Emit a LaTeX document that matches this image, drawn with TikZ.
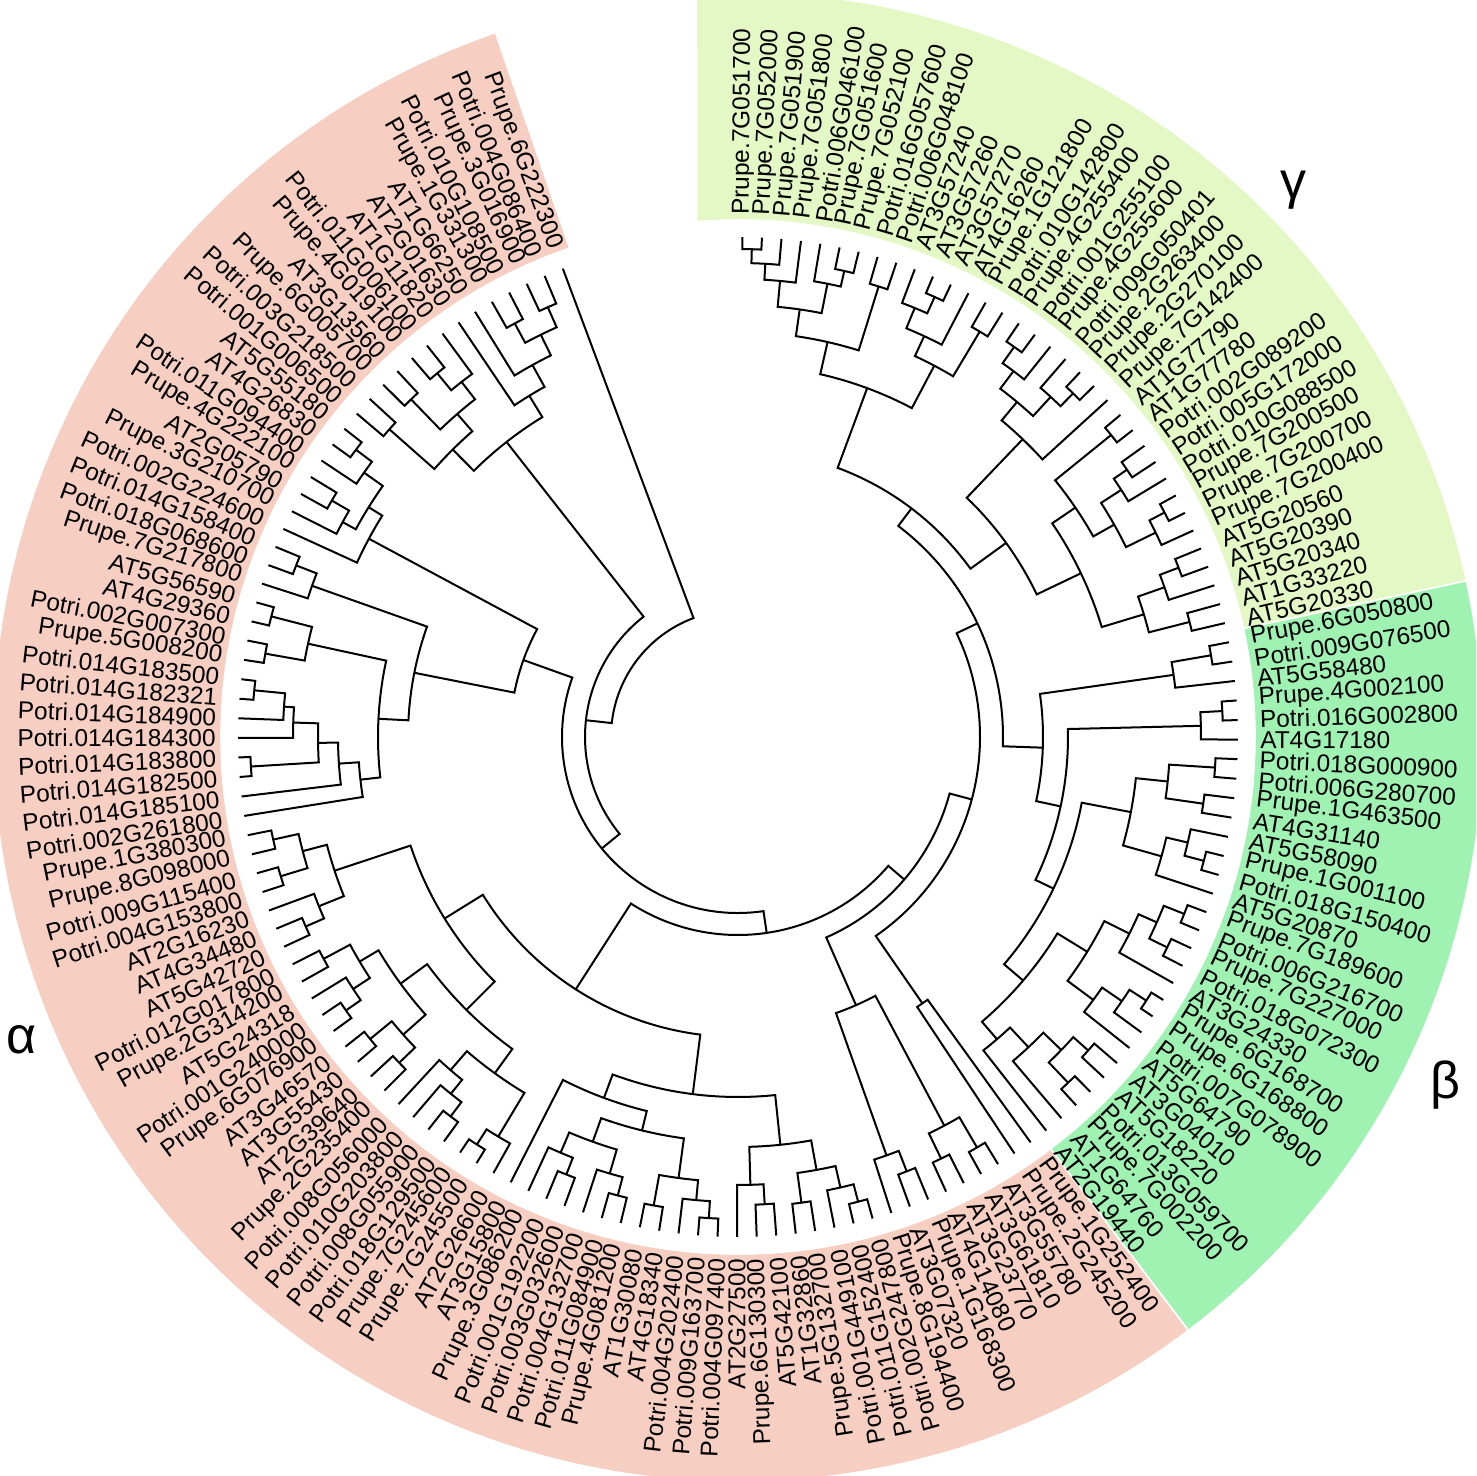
\documentclass[tikz,border=0pt]{standalone}
\usepackage{fontspec}
\setmainfont{Liberation Sans}
\definecolor{alphapink}{RGB}{246,206,194}
\definecolor{betagreen}{RGB}{160,242,178}
\definecolor{gammagreen}{RGB}{227,248,196}

% leaf: number, label
\newcommand\Lf[2]{%
  \pgfmathsetmacro\la{89.5-(#1-1)*2.245}%
  \expandafter\xdef\csname angl#1\endcsname{\la}%
  \expandafter\xdef\csname radl#1\endcsname{500}%
  \coordinate (tl#1) at (\la:500);
  \pgfmathtruncatemacro\flip{\la>-73}%
  \ifnum\flip=1
    \node[lbl,rotate=\la,anchor=west] (l#1) at (\la:522) {#2};
  \else
    \pgfmathsetmacro\lb{\la+180}%
    \node[lbl,rotate=\lb,anchor=east] (l#1) at (\la:522) {#2};
  \fi}
% inner node: name, child, child, radius
\newcommand\J[4]{%
  \edef\ja{\csname ang#2\endcsname}\edef\jb{\csname ang#3\endcsname}%
  \edef\ra{\csname rad#2\endcsname}\edef\rb{\csname rad#3\endcsname}%
  \draw[br] (\ja:\ra) -- (\ja:#4) arc[start angle=\ja,end angle=\jb,radius=#4] -- (\jb:\rb);
  \pgfmathsetmacro\jm{(\ja+\jb)/2}%
  \expandafter\xdef\csname ang#1\endcsname{\jm}%
  \expandafter\xdef\csname rad#1\endcsname{#4}%
  \coordinate (#1) at (\jm:#4);}

\begin{document}
\begin{tikzpicture}[x=0.5pt,y=0.5pt,
  lbl/.style={font=\fontsize{12.2}{14}\selectfont,inner sep=0pt},
  br/.style={line width=1pt,black,line join=miter},
  band/.style={draw=white,line width=0.8pt},
  cladename/.style={font=\fontsize{26}{30}\selectfont}]
\useasboundingbox (-738,-739) rectangle (738,737);
\clip (-738,-739) rectangle (738,737);

% coloured bands
\filldraw[band,fill=gammagreen] (94.6:517) arc[start angle=94.6,end angle=12.1,radius=517] -- (12.1:745) arc[start angle=12.1,end angle=93.2,radius=745] -- cycle;
\filldraw[band,fill=betagreen] (12.1:517) arc[start angle=12.1,end angle=-52.8,radius=517] -- (-52.8:745) arc[start angle=-52.8,end angle=12.1,radius=745] -- cycle;
\filldraw[band,fill=alphapink] (-52.8:517) arc[start angle=-52.8,end angle=-251,radius=517] -- (-251:745) arc[start angle=-251,end angle=-52.8,radius=745] -- cycle;

% leaves
\Lf{1}{Prupe.7G051700}
\Lf{2}{Prupe.7G052000}
\Lf{3}{Prupe.7G051900}
\Lf{4}{Prupe.7G051800}
\Lf{5}{Potri.006G046100}
\Lf{6}{Prupe.7G051600}
\Lf{7}{Prupe.7G052100}
\Lf{8}{Potri.016G057600}
\Lf{9}{Potri.006G048100}
\Lf{10}{AT3G57240}
\Lf{11}{AT3G57260}
\Lf{12}{AT3G57270}
\Lf{13}{AT4G16260}
\Lf{14}{Prupe.1G121800}
\Lf{15}{Potri.010G142800}
\Lf{16}{Prupe.4G255400}
\Lf{17}{Potri.001G255100}
\Lf{18}{Prupe.4G255600}
\Lf{19}{Potri.009G050401}
\Lf{20}{Prupe.2G263400}
\Lf{21}{Prupe.2G270100}
\Lf{22}{Prupe.7G142400}
\Lf{23}{AT1G77790}
\Lf{24}{AT1G77780}
\Lf{25}{Potri.002G089200}
\Lf{26}{Potri.005G172000}
\Lf{27}{Potri.010G088500}
\Lf{28}{Prupe.7G200500}
\Lf{29}{Prupe.7G200700}
\Lf{30}{Prupe.7G200400}
\Lf{31}{AT5G20560}
\Lf{32}{AT5G20390}
\Lf{33}{AT5G20340}
\Lf{34}{AT1G33220}
\Lf{35}{AT5G20330}
\Lf{36}{Prupe.6G050800}
\Lf{37}{Potri.009G076500}
\Lf{38}{AT5G58480}
\Lf{39}{Prupe.4G002100}
\Lf{40}{Potri.016G002800}
\Lf{41}{AT4G17180}
\Lf{42}{Potri.018G000900}
\Lf{43}{Potri.006G280700}
\Lf{44}{Prupe.1G463500}
\Lf{45}{AT4G31140}
\Lf{46}{AT5G58090}
\Lf{47}{Prupe.1G001100}
\Lf{48}{Potri.018G150400}
\Lf{49}{AT5G20870}
\Lf{50}{Prupe.7G189600}
\Lf{51}{Potri.006G216700}
\Lf{52}{Prupe.7G227000}
\Lf{53}{Potri.018G072300}
\Lf{54}{AT3G24330}
\Lf{55}{Prupe.6G168700}
\Lf{56}{Prupe.6G168800}
\Lf{57}{Potri.007G078900}
\Lf{58}{AT5G64790}
\Lf{59}{AT3G04010}
\Lf{60}{AT5G18220}
\Lf{61}{Potri.013G059700}
\Lf{62}{Prupe.7G002200}
\Lf{63}{AT1G64760}
\Lf{64}{AT2G19440}
\Lf{65}{Prupe.1G252400}
\Lf{66}{Prupe.2G245200}
\Lf{67}{AT3G55780}
\Lf{68}{AT3G61810}
\Lf{69}{AT3G23770}
\Lf{70}{AT4G14080}
\Lf{71}{Prupe.1G168300}
\Lf{72}{AT3G07320}
\Lf{73}{Prupe.8G194400}
\Lf{74}{Potri.002G247800}
\Lf{75}{Potri.011G152400}
\Lf{76}{Potri.001G449100}
\Lf{77}{Prupe.5G132700}
\Lf{78}{AT1G32860}
\Lf{79}{AT5G42100}
\Lf{80}{Prupe.6G130300}
\Lf{81}{AT2G27500}
\Lf{82}{Potri.004G097400}
\Lf{83}{Potri.009G163700}
\Lf{84}{Potri.004G202400}
\Lf{85}{AT4G18340}
\Lf{86}{AT1G30080}
\Lf{87}{Prupe.4G081200}
\Lf{88}{Potri.011G084900}
\Lf{89}{Potri.004G132700}
\Lf{90}{Potri.003G032600}
\Lf{91}{Potri.001G192200}
\Lf{92}{Prupe.3G086200}
\Lf{93}{AT3G15800}
\Lf{94}{AT2G26600}
\Lf{95}{Prupe.7G245500}
\Lf{96}{Prupe.7G245600}
\Lf{97}{Potri.018G129500}
\Lf{98}{Potri.008G055900}
\Lf{99}{Potri.010G203800}
\Lf{100}{Potri.008G056000}
\Lf{101}{Prupe.2G235400}
\Lf{102}{AT2G39640}
\Lf{103}{AT3G55430}
\Lf{104}{AT3G46570}
\Lf{105}{Prupe.6G076900}
\Lf{106}{Potri.001G240000}
\Lf{107}{AT5G24318}
\Lf{108}{Prupe.2G314200}
\Lf{109}{Potri.012G017800}
\Lf{110}{AT5G42720}
\Lf{111}{AT4G34480}
\Lf{112}{AT2G16230}
\Lf{113}{Potri.004G153800}
\Lf{114}{Potri.009G115400}
\Lf{115}{Prupe.8G098000}
\Lf{116}{Prupe.1G380300}
\Lf{117}{Potri.002G261800}
\Lf{118}{Potri.014G185100}
\Lf{119}{Potri.014G182500}
\Lf{120}{Potri.014G183800}
\Lf{121}{Potri.014G184300}
\Lf{122}{Potri.014G184900}
\Lf{123}{Potri.014G182321}
\Lf{124}{Potri.014G183500}
\Lf{125}{Prupe.5G008200}
\Lf{126}{Potri.002G007300}
\Lf{127}{AT4G29360}
\Lf{128}{AT5G56590}
\Lf{129}{Prupe.7G217800}
\Lf{130}{Potri.018G068600}
\Lf{131}{Potri.014G158400}
\Lf{132}{Potri.002G224600}
\Lf{133}{Prupe.3G210700}
\Lf{134}{AT2G05790}
\Lf{135}{Prupe.4G222100}
\Lf{136}{Potri.011G094400}
\Lf{137}{AT4G26830}
\Lf{138}{AT5G55180}
\Lf{139}{Potri.001G006500}
\Lf{140}{Potri.003G218500}
\Lf{141}{Prupe.6G005700}
\Lf{142}{AT3G13560}
\Lf{143}{Prupe.4G019100}
\Lf{144}{Potri.011G006100}
\Lf{145}{AT1G11820}
\Lf{146}{AT2G01630}
\Lf{147}{AT1G66250}
\Lf{148}{Prupe.1G331300}
\Lf{149}{Potri.010G108500}
\Lf{150}{Prupe.3G016900}
\Lf{151}{Potri.004G086400}
\Lf{152}{Prupe.6G222300}

% gamma
\J{g1}{l1}{l2}{488}
\J{g2}{g1}{l3}{474}
\J{g3}{g2}{l4}{458}
\J{g4}{l6}{l7}{478}
\J{g5}{l5}{g4}{462}
\J{g6}{g3}{g5}{432}
\J{g7}{l8}{l9}{472}
\J{g8}{g6}{g7}{405}
\J{g9}{l11}{l12}{482}
\J{g10}{l10}{g9}{464}
\J{g11}{g10}{l13}{442}
\J{g12}{l14}{l15}{472}
\J{g13}{g11}{g12}{420}
\J{g14}{g8}{g13}{372}
\J{g15}{l16}{l17}{478}
\J{g16}{g15}{l18}{458}
\J{g17}{l20}{l21}{480}
\J{g18}{l19}{g17}{462}
\J{g19}{g16}{g18}{436}
\J{g20}{g19}{l22}{412}
\J{g21}{l23}{l24}{480}
\J{g22}{l25}{l26}{472}
\J{g23}{g22}{l27}{456}
\J{g24}{l28}{l29}{482}
\J{g25}{g24}{l30}{465}
\J{g26}{g23}{g25}{432}
\J{g27}{g21}{g26}{408}
\J{g28}{l31}{l32}{472}
\J{g29}{g28}{l33}{452}
\J{g30}{l34}{l35}{466}
\J{g31}{g29}{g30}{424}
\J{g32}{g27}{g31}{380}
\J{g33}{g20}{g32}{331}
\J{gam}{g14}{g33}{287}
% beta
\J{b1}{l36}{l37}{480}
\J{b2}{b1}{l38}{440}
\J{b3}{l39}{l40}{485}
\J{b4}{b3}{l41}{463}
\J{b5}{l42}{l43}{478}
\J{b6}{l44}{l45}{470}
\J{b7}{b5}{b6}{432}
\J{b8}{l47}{l48}{482}
\J{b9}{l46}{b8}{462}
\J{b10}{b9}{l49}{440}
\J{b11}{b7}{b10}{400}
\J{b12}{l50}{l51}{480}
\J{b13}{l52}{l53}{478}
\J{b14}{b12}{b13}{458}
\J{b15}{b14}{l54}{438}
\J{b16}{l55}{l56}{486}
\J{b17}{b16}{l57}{466}
\J{b18}{b17}{l58}{442}
\J{b19}{b15}{b18}{410}
\J{b20}{l59}{l60}{470}
\J{b21}{l61}{l62}{478}
\J{b22}{b20}{b21}{450}
\J{b23}{b22}{l63}{425}
\J{b24}{b23}{l64}{398}
\J{b25}{b19}{b24}{375}
\J{b26}{b11}{b25}{350}
\J{b27}{b4}{b26}{330}
\J{bet}{b2}{b27}{305}
% alpha
\J{m1}{l65}{l66}{324}
\J{m2}{l67}{l68}{475}
\J{m3}{l69}{l70}{468}
\J{m4}{m2}{m3}{440}
\J{m5}{l71}{l72}{466}
\J{m6}{m5}{l73}{444}
\J{m7}{m4}{m6}{293}
\J{y1}{l74}{l75}{480}
\J{y2}{y1}{l76}{462}
\J{y3}{l77}{l78}{470}
\J{y4}{y2}{y3}{440}
\J{y5}{l79}{l80}{468}
\J{y6}{y5}{l81}{448}
\J{y7}{y4}{y6}{410}
\J{y8}{l82}{l83}{482}
\J{y9}{y8}{l84}{465}
\J{y10}{l85}{l86}{476}
\J{y11}{y9}{y10}{445}
\J{y12}{l87}{l88}{474}
\J{y13}{y12}{l89}{455}
\J{y14}{l90}{l91}{470}
\J{y15}{y14}{l92}{452}
\J{y16}{y13}{y15}{430}
\J{y17}{y11}{y16}{405}
\J{y18}{y17}{l93}{385}
\J{y19}{y7}{y18}{360}
\J{y20}{l95}{l96}{484}
\J{y21}{l94}{y20}{466}
\J{y22}{l97}{l98}{476}
\J{y23}{y22}{l99}{458}
\J{y24}{y23}{l100}{440}
\J{y25}{y21}{y24}{415}
\J{y26}{l101}{l102}{470}
\J{y27}{l103}{l104}{476}
\J{y28}{y26}{y27}{448}
\J{y29}{l105}{l106}{478}
\J{y30}{y29}{l107}{460}
\J{y31}{l108}{l109}{470}
\J{y32}{y30}{y31}{440}
\J{y33}{y28}{y32}{418}
\J{y34}{y25}{y33}{385}
\J{y35}{l110}{l111}{472}
\J{y36}{y35}{l112}{452}
\J{y37}{l113}{l114}{478}
\J{y38}{l115}{l116}{476}
\J{y39}{y37}{y38}{450}
\J{y40}{y36}{y39}{425}
\J{ybc}{y34}{y40}{345}
\J{yy}{y19}{ybc}{300}
\J{w1}{l123}{l124}{486}
\J{w2}{l122}{w1}{455}
\J{w3}{l121}{w2}{445}
\J{w4}{l119}{l120}{488}
\J{w5}{w4}{w3}{420}
\J{w6}{l118}{w5}{400}
\J{w7}{l117}{w6}{380}
\J{e1}{l125}{l126}{480}
\J{e2}{l127}{l128}{482}
\J{e5}{e1}{e2}{440}
\J{e3}{l130}{l131}{474}
\J{e4}{l129}{e3}{452}
\J{k1}{w7}{e5}{360}
\J{k2}{k1}{e4}{330}
\J{c1}{l137}{l138}{478}
\J{c2}{c1}{l136}{458}
\J{c3}{l134}{l135}{470}
\J{c4}{c3}{l133}{450}
\J{c5}{c2}{c4}{435}
\J{c6}{c5}{l132}{419}
\J{t1}{l151}{l150}{470}
\J{t2}{l149}{l148}{470}
\J{t3}{t1}{t2}{448}
\J{t4}{t3}{l147}{425}
\J{t5}{t4}{l146}{400}
\J{t6}{l144}{l143}{472}
\J{t7}{t6}{l145}{450}
\J{t8}{l142}{l141}{470}
\J{t9}{t7}{t8}{428}
\J{t10}{l140}{l139}{465}
\J{t11}{t9}{t10}{405}
\J{tl}{t5}{t11}{375}
% backbone
\J{nb}{gam}{bet}{265}
\J{nc}{nb}{m1}{242}
\J{nd}{nc}{m7}{219}
\J{ne}{nd}{yy}{198}
\J{u}{k2}{c6}{228}
\J{nf}{ne}{u}{176}
\J{nw}{nf}{tl}{153}
\J{root}{nw}{l152}{127}

% clade names
\node[cladename] (alpha) at (-716,-303) {α};
\node[cladename] (beta) at (707,-348) {β};
\node[cladename] (gamma) at (555,547) {γ};
\end{tikzpicture}
\end{document}
